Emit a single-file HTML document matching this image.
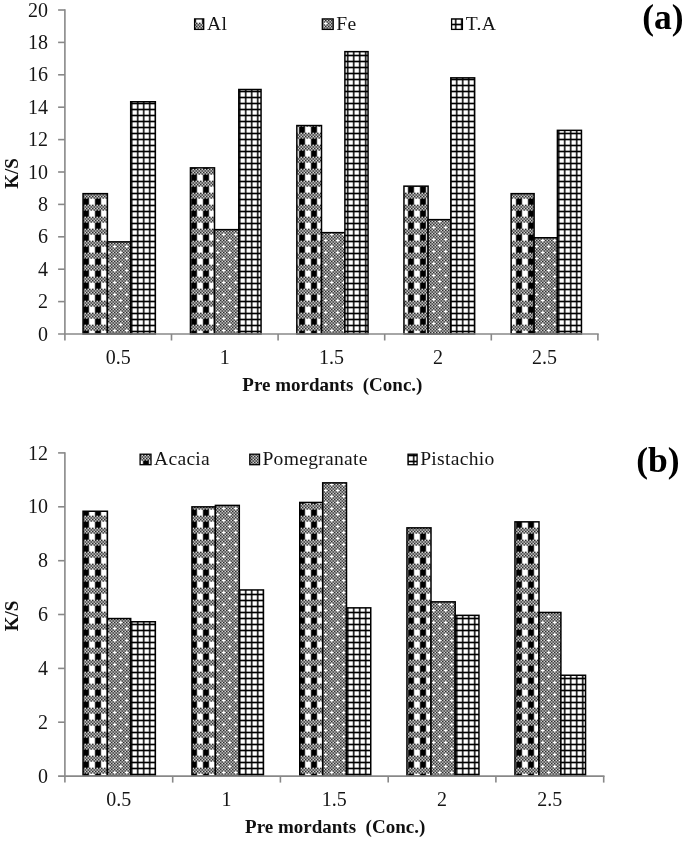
<!DOCTYPE html><html><head><meta charset="utf-8"><title>chart</title><style>html,body{margin:0;padding:0;background:#fff}svg{display:block}.t{font-family:"Liberation Serif",serif;font-size:20px;fill:#151515}.l{font-size:19.6px;letter-spacing:0.28px}.b{font-family:"Liberation Serif",serif;font-size:19px;font-weight:bold;fill:#111}.L{font-family:"Liberation Serif",serif;font-size:35.5px;font-weight:bold;fill:#000}</style></head><body>
<svg width="685" height="842" viewBox="0 0 685 842">
<defs><filter id="soft" x="0" y="0" width="685" height="842" filterUnits="userSpaceOnUse"><feOffset dx="0" dy="0"/></filter><pattern id="plaid0" patternUnits="userSpaceOnUse" width="12" height="12" patternTransform="translate(0,0)"><rect width="12" height="12" fill="#fff"/><g shape-rendering="crispEdges"><rect x="0" y="0" width="1" height="1" fill="#2a2a2a"/><rect x="1" y="0" width="1" height="1" fill="#808080"/><rect x="2" y="0" width="1" height="1" fill="#d5d5d5"/><rect x="3" y="0" width="1" height="1" fill="#2b2b2b"/><rect x="4" y="0" width="1" height="1" fill="#808080"/><rect x="5" y="0" width="1" height="1" fill="#d4d4d4"/><rect x="6" y="0" width="1" height="1" fill="#2a2a2a"/><rect x="7" y="0" width="1" height="1" fill="#808080"/><rect x="8" y="0" width="1" height="1" fill="#d5d5d5"/><rect x="9" y="0" width="1" height="1" fill="#2b2b2b"/><rect x="10" y="0" width="1" height="1" fill="#808080"/><rect x="11" y="0" width="1" height="1" fill="#d5d5d5"/><rect x="0" y="1" width="1" height="1" fill="#9c9c9c"/><rect x="1" y="1" width="1" height="1" fill="#808080"/><rect x="2" y="1" width="1" height="1" fill="#636363"/><rect x="3" y="1" width="1" height="1" fill="#9c9c9c"/><rect x="4" y="1" width="1" height="1" fill="#808080"/><rect x="5" y="1" width="1" height="1" fill="#636363"/><rect x="6" y="1" width="1" height="1" fill="#9c9c9c"/><rect x="7" y="1" width="1" height="1" fill="#808080"/><rect x="8" y="1" width="1" height="1" fill="#636363"/><rect x="9" y="1" width="1" height="1" fill="#9c9c9c"/><rect x="10" y="1" width="1" height="1" fill="#808080"/><rect x="11" y="1" width="1" height="1" fill="#636363"/><rect x="0" y="2" width="1" height="1" fill="#9c9c9c"/><rect x="1" y="2" width="1" height="1" fill="#808080"/><rect x="2" y="2" width="1" height="1" fill="#636363"/><rect x="3" y="2" width="1" height="1" fill="#9c9c9c"/><rect x="4" y="2" width="1" height="1" fill="#808080"/><rect x="5" y="2" width="1" height="1" fill="#636363"/><rect x="6" y="2" width="1" height="1" fill="#9c9c9c"/><rect x="7" y="2" width="1" height="1" fill="#808080"/><rect x="8" y="2" width="1" height="1" fill="#636363"/><rect x="9" y="2" width="1" height="1" fill="#9c9c9c"/><rect x="10" y="2" width="1" height="1" fill="#808080"/><rect x="11" y="2" width="1" height="1" fill="#636363"/><rect x="0" y="3" width="1" height="1" fill="#2a2a2a"/><rect x="1" y="3" width="1" height="1" fill="#808080"/><rect x="2" y="3" width="1" height="1" fill="#d5d5d5"/><rect x="3" y="3" width="1" height="1" fill="#2b2b2b"/><rect x="4" y="3" width="1" height="1" fill="#808080"/><rect x="5" y="3" width="1" height="1" fill="#d4d4d4"/><rect x="6" y="3" width="1" height="1" fill="#2a2a2a"/><rect x="7" y="3" width="1" height="1" fill="#808080"/><rect x="8" y="3" width="1" height="1" fill="#d5d5d5"/><rect x="9" y="3" width="1" height="1" fill="#2b2b2b"/><rect x="10" y="3" width="1" height="1" fill="#808080"/><rect x="11" y="3" width="1" height="1" fill="#d5d5d5"/><rect x="0" y="4" width="1" height="1" fill="#9c9c9c"/><rect x="1" y="4" width="1" height="1" fill="#808080"/><rect x="2" y="4" width="1" height="1" fill="#636363"/><rect x="3" y="4" width="1" height="1" fill="#9c9c9c"/><rect x="4" y="4" width="1" height="1" fill="#808080"/><rect x="5" y="4" width="1" height="1" fill="#636363"/><rect x="6" y="4" width="1" height="1" fill="#9c9c9c"/><rect x="7" y="4" width="1" height="1" fill="#808080"/><rect x="8" y="4" width="1" height="1" fill="#636363"/><rect x="9" y="4" width="1" height="1" fill="#9c9c9c"/><rect x="10" y="4" width="1" height="1" fill="#808080"/><rect x="11" y="4" width="1" height="1" fill="#636363"/><rect x="0" y="5" width="1" height="1" fill="#9c9c9c"/><rect x="1" y="5" width="1" height="1" fill="#555555"/><rect x="2" y="5" width="1" height="1" fill="#1c1c1c"/><rect x="3" y="5" width="1" height="1" fill="#8e8e8e"/><rect x="4" y="5" width="1" height="1" fill="#555555"/><rect x="5" y="5" width="1" height="1" fill="#2b2b2b"/><rect x="6" y="5" width="1" height="1" fill="#d5d5d5"/><rect x="7" y="5" width="1" height="1" fill="#aaaaaa"/><rect x="8" y="5" width="1" height="1" fill="#717171"/><rect x="9" y="5" width="1" height="1" fill="#e3e3e3"/><rect x="10" y="5" width="1" height="1" fill="#aaaaaa"/><rect x="11" y="5" width="1" height="1" fill="#636363"/><rect x="0" y="6" width="1" height="1" fill="#2a2a2a"/><rect x="1" y="6" width="4" height="1" fill="#000000"/><rect x="5" y="6" width="1" height="1" fill="#2b2b2b"/><rect x="6" y="6" width="1" height="1" fill="#d5d5d5"/><rect x="11" y="6" width="1" height="1" fill="#d5d5d5"/><rect x="0" y="7" width="1" height="1" fill="#2a2a2a"/><rect x="1" y="7" width="4" height="1" fill="#000000"/><rect x="5" y="7" width="1" height="1" fill="#2b2b2b"/><rect x="6" y="7" width="1" height="1" fill="#d5d5d5"/><rect x="11" y="7" width="1" height="1" fill="#d5d5d5"/><rect x="0" y="8" width="1" height="1" fill="#2a2a2a"/><rect x="1" y="8" width="4" height="1" fill="#000000"/><rect x="5" y="8" width="1" height="1" fill="#2b2b2b"/><rect x="6" y="8" width="1" height="1" fill="#d5d5d5"/><rect x="11" y="8" width="1" height="1" fill="#d5d5d5"/><rect x="0" y="9" width="1" height="1" fill="#2a2a2a"/><rect x="1" y="9" width="4" height="1" fill="#000000"/><rect x="5" y="9" width="1" height="1" fill="#2b2b2b"/><rect x="6" y="9" width="1" height="1" fill="#d5d5d5"/><rect x="11" y="9" width="1" height="1" fill="#d5d5d5"/><rect x="0" y="10" width="1" height="1" fill="#2a2a2a"/><rect x="1" y="10" width="4" height="1" fill="#000000"/><rect x="5" y="10" width="1" height="1" fill="#2b2b2b"/><rect x="6" y="10" width="1" height="1" fill="#d5d5d5"/><rect x="11" y="10" width="1" height="1" fill="#d5d5d5"/><rect x="0" y="11" width="2" height="1" fill="#2a2a2a"/><rect x="2" y="11" width="1" height="1" fill="#474747"/><rect x="3" y="11" width="1" height="1" fill="#0e0e0e"/><rect x="4" y="11" width="1" height="1" fill="#2a2a2a"/><rect x="5" y="11" width="1" height="1" fill="#636363"/><rect x="6" y="11" width="1" height="1" fill="#9c9c9c"/><rect x="7" y="11" width="1" height="1" fill="#d5d5d5"/><rect x="8" y="11" width="1" height="1" fill="#f1f1f1"/><rect x="9" y="11" width="1" height="1" fill="#b8b8b8"/><rect x="10" y="11" width="2" height="1" fill="#d5d5d5"/></g></pattern><pattern id="dots0" patternUnits="userSpaceOnUse" width="12" height="12" patternTransform="translate(0,0)"><rect width="12" height="12" fill="#fff"/><g shape-rendering="crispEdges"><rect x="2" y="0" width="1" height="1" fill="#d5d5d5"/><rect x="3" y="0" width="1" height="1" fill="#2b2b2b"/><rect x="4" y="0" width="1" height="1" fill="#808080"/><rect x="5" y="0" width="1" height="1" fill="#d4d4d4"/><rect x="6" y="0" width="1" height="1" fill="#2a2a2a"/><rect x="7" y="0" width="1" height="1" fill="#808080"/><rect x="8" y="0" width="1" height="1" fill="#d5d5d5"/><rect x="9" y="0" width="1" height="1" fill="#2b2b2b"/><rect x="10" y="0" width="1" height="1" fill="#808080"/><rect x="0" y="1" width="1" height="1" fill="#e3e3e3"/><rect x="1" y="1" width="1" height="1" fill="#aaaaaa"/><rect x="2" y="1" width="1" height="1" fill="#636363"/><rect x="3" y="1" width="1" height="1" fill="#9c9c9c"/><rect x="4" y="1" width="1" height="1" fill="#808080"/><rect x="5" y="1" width="1" height="1" fill="#636363"/><rect x="6" y="1" width="1" height="1" fill="#9c9c9c"/><rect x="7" y="1" width="1" height="1" fill="#808080"/><rect x="8" y="1" width="1" height="1" fill="#636363"/><rect x="9" y="1" width="1" height="1" fill="#9c9c9c"/><rect x="10" y="1" width="1" height="1" fill="#808080"/><rect x="11" y="1" width="1" height="1" fill="#717171"/><rect x="0" y="2" width="1" height="1" fill="#9c9c9c"/><rect x="1" y="2" width="1" height="1" fill="#808080"/><rect x="2" y="2" width="1" height="1" fill="#636363"/><rect x="3" y="2" width="1" height="1" fill="#9c9c9c"/><rect x="4" y="2" width="1" height="1" fill="#808080"/><rect x="5" y="2" width="1" height="1" fill="#636363"/><rect x="6" y="2" width="1" height="1" fill="#9c9c9c"/><rect x="7" y="2" width="1" height="1" fill="#808080"/><rect x="8" y="2" width="1" height="1" fill="#636363"/><rect x="9" y="2" width="1" height="1" fill="#9c9c9c"/><rect x="10" y="2" width="1" height="1" fill="#808080"/><rect x="11" y="2" width="1" height="1" fill="#636363"/><rect x="0" y="3" width="1" height="1" fill="#2a2a2a"/><rect x="1" y="3" width="1" height="1" fill="#808080"/><rect x="2" y="3" width="1" height="1" fill="#d5d5d5"/><rect x="3" y="3" width="1" height="1" fill="#2b2b2b"/><rect x="4" y="3" width="1" height="1" fill="#808080"/><rect x="5" y="3" width="1" height="1" fill="#d4d4d4"/><rect x="6" y="3" width="1" height="1" fill="#2a2a2a"/><rect x="7" y="3" width="1" height="1" fill="#808080"/><rect x="8" y="3" width="1" height="1" fill="#d5d5d5"/><rect x="9" y="3" width="1" height="1" fill="#2b2b2b"/><rect x="10" y="3" width="1" height="1" fill="#808080"/><rect x="11" y="3" width="1" height="1" fill="#d5d5d5"/><rect x="0" y="4" width="1" height="1" fill="#9c9c9c"/><rect x="1" y="4" width="1" height="1" fill="#808080"/><rect x="2" y="4" width="1" height="1" fill="#636363"/><rect x="3" y="4" width="1" height="1" fill="#9c9c9c"/><rect x="4" y="4" width="1" height="1" fill="#808080"/><rect x="5" y="4" width="1" height="1" fill="#636363"/><rect x="6" y="4" width="1" height="1" fill="#9c9c9c"/><rect x="7" y="4" width="1" height="1" fill="#808080"/><rect x="8" y="4" width="1" height="1" fill="#636363"/><rect x="9" y="4" width="1" height="1" fill="#9c9c9c"/><rect x="10" y="4" width="1" height="1" fill="#808080"/><rect x="11" y="4" width="1" height="1" fill="#636363"/><rect x="0" y="5" width="1" height="1" fill="#9c9c9c"/><rect x="1" y="5" width="1" height="1" fill="#808080"/><rect x="2" y="5" width="1" height="1" fill="#636363"/><rect x="3" y="5" width="1" height="1" fill="#9c9c9c"/><rect x="4" y="5" width="1" height="1" fill="#808080"/><rect x="5" y="5" width="1" height="1" fill="#717171"/><rect x="6" y="5" width="1" height="1" fill="#e3e3e3"/><rect x="7" y="5" width="1" height="1" fill="#aaaaaa"/><rect x="8" y="5" width="1" height="1" fill="#636363"/><rect x="9" y="5" width="1" height="1" fill="#9c9c9c"/><rect x="10" y="5" width="1" height="1" fill="#808080"/><rect x="11" y="5" width="1" height="1" fill="#636363"/><rect x="0" y="6" width="1" height="1" fill="#2a2a2a"/><rect x="1" y="6" width="1" height="1" fill="#808080"/><rect x="2" y="6" width="1" height="1" fill="#d5d5d5"/><rect x="3" y="6" width="1" height="1" fill="#2b2b2b"/><rect x="4" y="6" width="1" height="1" fill="#808080"/><rect x="8" y="6" width="1" height="1" fill="#d5d5d5"/><rect x="9" y="6" width="1" height="1" fill="#2b2b2b"/><rect x="10" y="6" width="1" height="1" fill="#808080"/><rect x="11" y="6" width="1" height="1" fill="#d5d5d5"/><rect x="0" y="7" width="1" height="1" fill="#9c9c9c"/><rect x="1" y="7" width="1" height="1" fill="#808080"/><rect x="2" y="7" width="1" height="1" fill="#636363"/><rect x="3" y="7" width="1" height="1" fill="#9c9c9c"/><rect x="4" y="7" width="1" height="1" fill="#808080"/><rect x="5" y="7" width="1" height="1" fill="#717171"/><rect x="6" y="7" width="1" height="1" fill="#e3e3e3"/><rect x="7" y="7" width="1" height="1" fill="#aaaaaa"/><rect x="8" y="7" width="1" height="1" fill="#636363"/><rect x="9" y="7" width="1" height="1" fill="#9c9c9c"/><rect x="10" y="7" width="1" height="1" fill="#808080"/><rect x="11" y="7" width="1" height="1" fill="#636363"/><rect x="0" y="8" width="1" height="1" fill="#9c9c9c"/><rect x="1" y="8" width="1" height="1" fill="#808080"/><rect x="2" y="8" width="1" height="1" fill="#636363"/><rect x="3" y="8" width="1" height="1" fill="#9c9c9c"/><rect x="4" y="8" width="1" height="1" fill="#808080"/><rect x="5" y="8" width="1" height="1" fill="#636363"/><rect x="6" y="8" width="1" height="1" fill="#9c9c9c"/><rect x="7" y="8" width="1" height="1" fill="#808080"/><rect x="8" y="8" width="1" height="1" fill="#636363"/><rect x="9" y="8" width="1" height="1" fill="#9c9c9c"/><rect x="10" y="8" width="1" height="1" fill="#808080"/><rect x="11" y="8" width="1" height="1" fill="#636363"/><rect x="0" y="9" width="1" height="1" fill="#2a2a2a"/><rect x="1" y="9" width="1" height="1" fill="#808080"/><rect x="2" y="9" width="1" height="1" fill="#d5d5d5"/><rect x="3" y="9" width="1" height="1" fill="#2b2b2b"/><rect x="4" y="9" width="1" height="1" fill="#808080"/><rect x="5" y="9" width="1" height="1" fill="#d4d4d4"/><rect x="6" y="9" width="1" height="1" fill="#2a2a2a"/><rect x="7" y="9" width="1" height="1" fill="#808080"/><rect x="8" y="9" width="1" height="1" fill="#d5d5d5"/><rect x="9" y="9" width="1" height="1" fill="#2b2b2b"/><rect x="10" y="9" width="1" height="1" fill="#808080"/><rect x="11" y="9" width="1" height="1" fill="#d5d5d5"/><rect x="0" y="10" width="1" height="1" fill="#9c9c9c"/><rect x="1" y="10" width="1" height="1" fill="#808080"/><rect x="2" y="10" width="1" height="1" fill="#636363"/><rect x="3" y="10" width="1" height="1" fill="#9c9c9c"/><rect x="4" y="10" width="1" height="1" fill="#808080"/><rect x="5" y="10" width="1" height="1" fill="#636363"/><rect x="6" y="10" width="1" height="1" fill="#9c9c9c"/><rect x="7" y="10" width="1" height="1" fill="#808080"/><rect x="8" y="10" width="1" height="1" fill="#636363"/><rect x="9" y="10" width="1" height="1" fill="#9c9c9c"/><rect x="10" y="10" width="1" height="1" fill="#808080"/><rect x="11" y="10" width="1" height="1" fill="#636363"/><rect x="0" y="11" width="1" height="1" fill="#e3e3e3"/><rect x="1" y="11" width="1" height="1" fill="#aaaaaa"/><rect x="2" y="11" width="1" height="1" fill="#636363"/><rect x="3" y="11" width="1" height="1" fill="#9c9c9c"/><rect x="4" y="11" width="1" height="1" fill="#808080"/><rect x="5" y="11" width="1" height="1" fill="#636363"/><rect x="6" y="11" width="1" height="1" fill="#9c9c9c"/><rect x="7" y="11" width="1" height="1" fill="#808080"/><rect x="8" y="11" width="1" height="1" fill="#636363"/><rect x="9" y="11" width="1" height="1" fill="#9c9c9c"/><rect x="10" y="11" width="1" height="1" fill="#808080"/><rect x="11" y="11" width="1" height="1" fill="#717171"/></g></pattern><pattern id="grid0" patternUnits="userSpaceOnUse" width="6" height="6" patternTransform="translate(0,0)"><rect width="6" height="6" fill="#fff"/><g shape-rendering="crispEdges"><rect x="0" y="0" width="6" height="1" fill="#000000"/><rect x="0" y="1" width="1" height="1" fill="#1c1c1c"/><rect x="1" y="1" width="1" height="1" fill="#555555"/><rect x="2" y="1" width="3" height="1" fill="#aaaaaa"/><rect x="5" y="1" width="1" height="1" fill="#8e8e8e"/><rect x="0" y="2" width="1" height="1" fill="#2a2a2a"/><rect x="1" y="2" width="1" height="1" fill="#808080"/><rect x="5" y="2" width="1" height="1" fill="#d4d4d4"/><rect x="0" y="3" width="1" height="1" fill="#2a2a2a"/><rect x="1" y="3" width="1" height="1" fill="#808080"/><rect x="5" y="3" width="1" height="1" fill="#d4d4d4"/><rect x="0" y="4" width="1" height="1" fill="#2a2a2a"/><rect x="1" y="4" width="1" height="1" fill="#808080"/><rect x="5" y="4" width="1" height="1" fill="#d4d4d4"/><rect x="0" y="5" width="1" height="1" fill="#1c1c1c"/><rect x="1" y="5" width="1" height="1" fill="#555555"/><rect x="2" y="5" width="3" height="1" fill="#aaaaaa"/><rect x="5" y="5" width="1" height="1" fill="#8e8e8e"/></g></pattern><pattern id="p11_1" href="#plaid0" xlink:href="#plaid0" patternTransform="translate(11,1)"/><pattern id="d0_0" href="#dots0" xlink:href="#dots0" patternTransform="translate(0,0)"/><pattern id="g5_1" href="#grid0" xlink:href="#grid0" patternTransform="translate(5,1)"/><pattern id="d1_0" href="#dots0" xlink:href="#dots0" patternTransform="translate(1,0)"/><pattern id="p0_1" href="#plaid0" xlink:href="#plaid0" patternTransform="translate(0,1)"/><pattern id="d1_11" href="#dots0" xlink:href="#dots0" patternTransform="translate(1,11)"/><pattern id="g0_1" href="#grid0" xlink:href="#grid0" patternTransform="translate(0,1)"/><pattern id="d2_0" href="#dots0" xlink:href="#dots0" patternTransform="translate(2,0)"/><pattern id="p10_11" href="#plaid0" xlink:href="#plaid0" patternTransform="translate(10,11)"/><pattern id="g5_0" href="#grid0" xlink:href="#grid0" patternTransform="translate(5,0)"/><pattern id="p11_0" href="#plaid0" xlink:href="#plaid0" patternTransform="translate(11,0)"/><pattern id="d0_10" href="#dots0" xlink:href="#dots0" patternTransform="translate(0,10)"/><pattern id="d1_10" href="#dots0" xlink:href="#dots0" patternTransform="translate(1,10)"/><pattern id="p0_0" href="#plaid0" xlink:href="#plaid0" patternTransform="translate(0,0)"/><pattern id="g0_0" href="#grid0" xlink:href="#grid0" patternTransform="translate(0,0)"/><pattern id="d2_10" href="#dots0" xlink:href="#dots0" patternTransform="translate(2,10)"/><pattern id="p11_11" href="#plaid0" xlink:href="#plaid0" patternTransform="translate(11,11)"/><pattern id="d8_3" href="#dots0" xlink:href="#dots0" patternTransform="translate(8,3)"/><pattern id="g5_5" href="#grid0" xlink:href="#grid0" patternTransform="translate(5,5)"/></defs>
<rect width="685" height="842" fill="#fff"/>
<g filter="url(#soft)">
<rect x="83.05" y="193.65" width="24.35" height="140.35" fill="url(#p11_1)" stroke="#000" stroke-width="1.5"/>
<rect x="107.40" y="241.85" width="23.30" height="92.15" fill="url(#d0_0)" stroke="#000" stroke-width="1.5"/>
<rect x="130.70" y="101.75" width="24.65" height="232.25" fill="url(#g5_1)" stroke="#000" stroke-width="1.5"/>
<rect x="190.45" y="167.85" width="24.05" height="166.15" fill="url(#p11_1)" stroke="#000" stroke-width="1.5"/>
<rect x="214.50" y="229.65" width="24.30" height="104.35" fill="url(#d1_0)" stroke="#000" stroke-width="1.5"/>
<rect x="238.80" y="89.50" width="22.25" height="244.50" fill="url(#g5_1)" stroke="#000" stroke-width="1.5"/>
<rect x="296.85" y="125.55" width="24.65" height="208.45" fill="url(#p11_1)" stroke="#000" stroke-width="1.5"/>
<rect x="321.50" y="232.65" width="23.40" height="101.35" fill="url(#d1_0)" stroke="#000" stroke-width="1.5"/>
<rect x="344.90" y="51.65" width="23.15" height="282.35" fill="url(#g5_1)" stroke="#000" stroke-width="1.5"/>
<rect x="403.95" y="186.15" width="24.15" height="147.85" fill="url(#p0_1)" stroke="#000" stroke-width="1.5"/>
<rect x="428.10" y="219.65" width="22.70" height="114.35" fill="url(#d1_11)" stroke="#000" stroke-width="1.5"/>
<rect x="450.80" y="77.85" width="23.85" height="256.15" fill="url(#g0_1)" stroke="#000" stroke-width="1.5"/>
<rect x="511.15" y="193.65" width="22.95" height="140.35" fill="url(#p0_1)" stroke="#000" stroke-width="1.5"/>
<rect x="534.10" y="237.75" width="23.30" height="96.25" fill="url(#d2_0)" stroke="#000" stroke-width="1.5"/>
<rect x="557.40" y="130.35" width="24.05" height="203.65" fill="url(#g0_1)" stroke="#000" stroke-width="1.5"/>
<g stroke="#888888" stroke-width="1.6" fill="none">
<path d="M64.9 9.20V340.5"/>
<path d="M58.10000000000001 334.0H598.6999999999999"/>
<path d="M171.5 334.0v6.5"/>
<path d="M278.1 334.0v6.5"/>
<path d="M384.7 334.0v6.5"/>
<path d="M491.3 334.0v6.5"/>
<path d="M597.9 334.0v6.5"/>
<path d="M58.10000000000001 301.6H64.9"/>
<path d="M58.10000000000001 269.2H64.9"/>
<path d="M58.10000000000001 236.8H64.9"/>
<path d="M58.10000000000001 204.4H64.9"/>
<path d="M58.10000000000001 172.0H64.9"/>
<path d="M58.10000000000001 139.6H64.9"/>
<path d="M58.10000000000001 107.2H64.9"/>
<path d="M58.10000000000001 74.8H64.9"/>
<path d="M58.10000000000001 42.4H64.9"/>
<path d="M58.10000000000001 10.0H64.9"/>
</g>
<text x="48" y="340.6" text-anchor="end" class="t">0</text>
<text x="48" y="308.2" text-anchor="end" class="t">2</text>
<text x="48" y="275.8" text-anchor="end" class="t">4</text>
<text x="48" y="243.4" text-anchor="end" class="t">6</text>
<text x="48" y="211.0" text-anchor="end" class="t">8</text>
<text x="48" y="178.6" text-anchor="end" class="t">10</text>
<text x="48" y="146.2" text-anchor="end" class="t">12</text>
<text x="48" y="113.8" text-anchor="end" class="t">14</text>
<text x="48" y="81.4" text-anchor="end" class="t">16</text>
<text x="48" y="49.0" text-anchor="end" class="t">18</text>
<text x="48" y="16.6" text-anchor="end" class="t">20</text>
<text x="118.2" y="363.7" text-anchor="middle" class="t">0.5</text>
<text x="224.8" y="363.7" text-anchor="middle" class="t">1</text>
<text x="331.4" y="363.7" text-anchor="middle" class="t">1.5</text>
<text x="438.0" y="363.7" text-anchor="middle" class="t">2</text>
<text x="544.6" y="363.7" text-anchor="middle" class="t">2.5</text>
<rect x="194.60" y="18.90" width="9.10" height="10.50" fill="url(#p10_11)" stroke="#000" stroke-width="1.3"/>
<text x="207.0" y="30.1" class="t l">Al</text>
<rect x="322.30" y="18.90" width="10.90" height="10.50" fill="url(#d1_11)" stroke="#000" stroke-width="1.3"/>
<text x="336.3" y="30.1" class="t l">Fe</text>
<rect x="451.60" y="18.90" width="10.80" height="10.50" fill="url(#g5_0)" stroke="#000" stroke-width="1.3"/>
<text x="465.8" y="30.1" class="t l">T.A</text>
<text x="642.2" y="28.5" class="L">(a)</text>
<text transform="translate(18,173.5) rotate(-90)" text-anchor="middle" class="b">K/S</text>
<text x="242.3" y="390.8" class="b" xml:space="preserve">Pre mordants  (Conc.)</text>
<rect x="83.05" y="511.25" width="24.35" height="264.85" fill="url(#p11_0)" stroke="#000" stroke-width="1.5"/>
<rect x="107.40" y="618.55" width="23.30" height="157.55" fill="url(#d0_10)" stroke="#000" stroke-width="1.5"/>
<rect x="130.70" y="621.75" width="24.65" height="154.35" fill="url(#g5_0)" stroke="#000" stroke-width="1.5"/>
<rect x="191.95" y="506.85" width="23.45" height="269.25" fill="url(#p11_0)" stroke="#000" stroke-width="1.5"/>
<rect x="215.40" y="505.40" width="23.90" height="270.70" fill="url(#d1_10)" stroke="#000" stroke-width="1.5"/>
<rect x="239.30" y="589.95" width="24.15" height="186.15" fill="url(#g5_0)" stroke="#000" stroke-width="1.5"/>
<rect x="299.75" y="502.45" width="22.95" height="273.65" fill="url(#p11_0)" stroke="#000" stroke-width="1.5"/>
<rect x="322.70" y="482.85" width="23.80" height="293.25" fill="url(#d1_10)" stroke="#000" stroke-width="1.5"/>
<rect x="346.50" y="607.85" width="24.25" height="168.25" fill="url(#g5_0)" stroke="#000" stroke-width="1.5"/>
<rect x="406.95" y="527.85" width="24.05" height="248.25" fill="url(#p0_0)" stroke="#000" stroke-width="1.5"/>
<rect x="431.00" y="601.85" width="24.20" height="174.25" fill="url(#d1_10)" stroke="#000" stroke-width="1.5"/>
<rect x="455.20" y="615.35" width="23.75" height="160.75" fill="url(#g0_0)" stroke="#000" stroke-width="1.5"/>
<rect x="514.95" y="521.85" width="24.05" height="254.25" fill="url(#p0_0)" stroke="#000" stroke-width="1.5"/>
<rect x="539.00" y="612.45" width="21.90" height="163.65" fill="url(#d2_10)" stroke="#000" stroke-width="1.5"/>
<rect x="560.90" y="675.25" width="24.65" height="100.85" fill="url(#g0_0)" stroke="#000" stroke-width="1.5"/>
<g stroke="#888888" stroke-width="1.6" fill="none">
<path d="M64.9 452.14V782.6"/>
<path d="M58.10000000000001 776.1H604.5"/>
<path d="M172.7 776.1v6.5"/>
<path d="M280.4 776.1v6.5"/>
<path d="M388.2 776.1v6.5"/>
<path d="M495.9 776.1v6.5"/>
<path d="M603.7 776.1v6.5"/>
<path d="M58.10000000000001 722.2H64.9"/>
<path d="M58.10000000000001 668.4H64.9"/>
<path d="M58.10000000000001 614.5H64.9"/>
<path d="M58.10000000000001 560.7H64.9"/>
<path d="M58.10000000000001 506.8H64.9"/>
<path d="M58.10000000000001 452.9H64.9"/>
</g>
<text x="48" y="782.7" text-anchor="end" class="t">0</text>
<text x="48" y="728.8" text-anchor="end" class="t">2</text>
<text x="48" y="675.0" text-anchor="end" class="t">4</text>
<text x="48" y="621.1" text-anchor="end" class="t">6</text>
<text x="48" y="567.3" text-anchor="end" class="t">8</text>
<text x="48" y="513.4" text-anchor="end" class="t">10</text>
<text x="48" y="459.5" text-anchor="end" class="t">12</text>
<text x="118.8" y="806" text-anchor="middle" class="t">0.5</text>
<text x="226.5" y="806" text-anchor="middle" class="t">1</text>
<text x="334.3" y="806" text-anchor="middle" class="t">1.5</text>
<text x="442.1" y="806" text-anchor="middle" class="t">2</text>
<text x="549.8" y="806" text-anchor="middle" class="t">2.5</text>
<rect x="140.10" y="454.20" width="10.90" height="10.50" fill="url(#p11_11)" stroke="#000" stroke-width="1.3"/>
<text x="154.0" y="465.4" class="t l">Acacia</text>
<rect x="249.80" y="454.20" width="9.70" height="10.50" fill="url(#d8_3)" stroke="#000" stroke-width="1.3"/>
<text x="262.4" y="465.4" class="t l">Pomegranate</text>
<rect x="408.00" y="454.20" width="9.10" height="10.50" fill="url(#g5_5)" stroke="#000" stroke-width="1.3"/>
<text x="420.2" y="465.4" class="t l">Pistachio</text>
<text x="636.3" y="471.8" class="L">(b)</text>
<text transform="translate(18,616) rotate(-90)" text-anchor="middle" class="b">K/S</text>
<text x="245.1" y="833" class="b" xml:space="preserve">Pre mordants  (Conc.)</text>
</g></svg></body></html>
